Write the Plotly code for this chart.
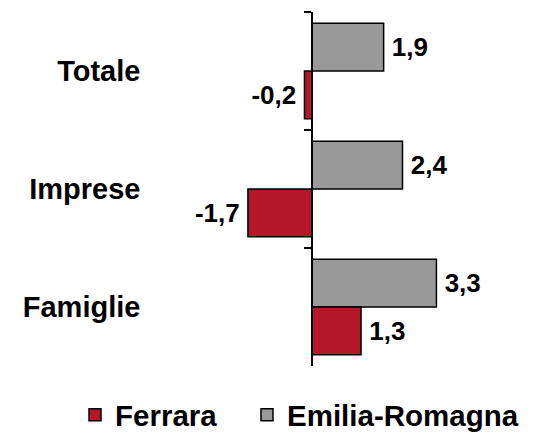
import plotly.graph_objects as go

categories = ["Totale", "Imprese", "Famiglie"]
ferrara = [-0.2, -1.7, 1.3]
emilia_romagna = [1.9, 2.4, 3.3]

FONT = "Liberation Sans, Arial, sans-serif"
RED = "#B5172A"
GRAY = "#999999"

W, H = 537, 424
ZERO_PX = 304
LABEL_TPL = "\u2009%{x:.1f}\u2009"

fig = go.Figure()
fig.add_trace(go.Bar(
    y=categories, x=emilia_romagna, name="Emilia-Romagna", orientation="h",
    marker=dict(color=GRAY, line=dict(color="black", width=1.5)),
    texttemplate=LABEL_TPL, textposition="outside", cliponaxis=False,
    textfont=dict(family=FONT, size=26, color="black", weight="bold"),
    legend="legend2",
))
fig.add_trace(go.Bar(
    y=categories, x=ferrara, name="Ferrara", orientation="h",
    marker=dict(color=RED, line=dict(color="black", width=1.5)),
    texttemplate=LABEL_TPL, textposition="outside", cliponaxis=False,
    textfont=dict(family=FONT, size=26, color="black", weight="bold"),
    legend="legend",
))

legend_font = dict(family=FONT, size=29.5, color="black", weight="bold")

fig.update_layout(
    width=W, height=H,
    margin=dict(l=0, r=0, t=4, b=66),
    paper_bgcolor="white", plot_bgcolor="white",
    barmode="group", bargap=0.19, bargroupgap=0,
    separators=",.",
    font=dict(family=FONT, size=26, color="black", weight="bold"),
    xaxis=dict(range=[-8.064, 6.18], visible=False, domain=[0, 1]),
    yaxis=dict(
        categoryorder="array", categoryarray=categories, autorange="reversed",
        anchor="free", position=ZERO_PX / W,
        showline=True, linecolor="black", linewidth=1.5,
        ticks="outside", ticklen=7, tickcolor="black", tickwidth=1.5,
        tickson="boundaries", showgrid=False, zeroline=False,
        ticklabelstandoff=165, automargin=False,
        tickfont=dict(family=FONT, size=29, color="black", weight="bold"),
    ),
    showlegend=True,
    legend=dict(
        orientation="h", xref="container", x=67 / W, xanchor="left",
        yref="container", y=0.040, yanchor="middle",
        font=legend_font, bgcolor="rgba(0,0,0,0)",
    ),
    legend2=dict(
        orientation="h", xref="container", x=239 / W, xanchor="left",
        yref="container", y=0.040, yanchor="middle",
        font=legend_font, bgcolor="rgba(0,0,0,0)",
    ),
)

fig.write_html("out.html")
